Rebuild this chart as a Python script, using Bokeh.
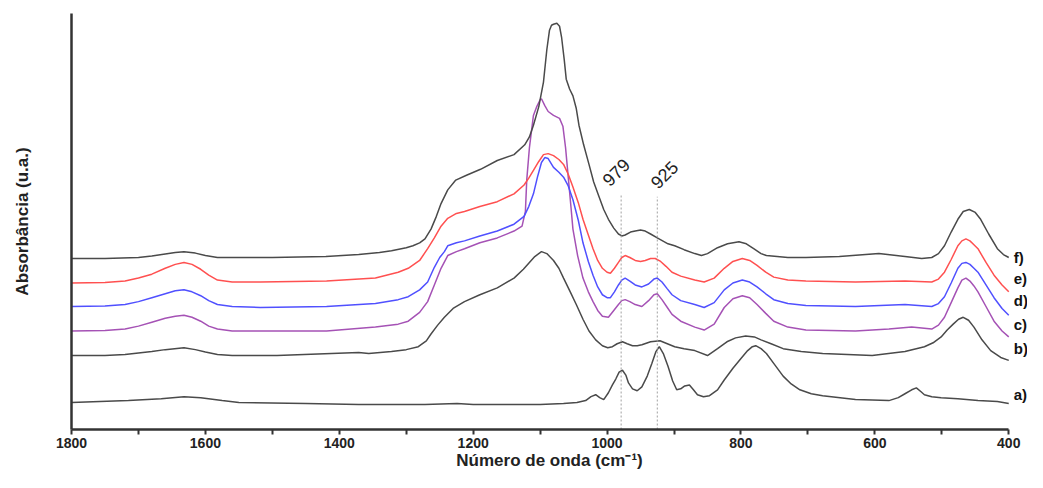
from bokeh.plotting import figure
from bokeh.models import Range1d, FixedTicker, Label
from bokeh.embed import file_html
from bokeh.resources import INLINE

# ---------------- data (wavenumber in cm-1, offset spectra) -------------
# values are given in picture units (py) and converted to absorbance (a.u.) below
wn_f = [1800, 1750, 1700, 1680, 1660, 1645, 1632, 1615, 1600, 1582,
        1500, 1420, 1371, 1340, 1322, 1300, 1290, 1280, 1272, 1263,
        1255, 1248, 1238, 1226, 1210, 1189, 1164, 1139, 1123, 1116,
        1110, 1102, 1095, 1090, 1086, 1083, 1080, 1075, 1071, 1068,
        1064, 1061, 1056, 1051, 1046, 1042, 1035, 1027, 1020, 1012,
        1005, 998, 990, 983, 978, 973, 965, 958, 950, 943,
        935, 925, 909, 899, 885, 869, 859, 850, 835, 820,
        803, 792, 781, 770, 762, 730, 703, 653, 594, 555,
        530, 515, 505, 496, 486, 476, 468, 459, 450, 442,
        430, 417, 408, 400]
py_f = [263, 263, 262, 260.5, 258.5, 257, 256, 257.5, 260, 262,
        262, 261, 259, 257, 255, 252, 250, 247, 243, 233,
        220, 207, 193, 183, 178, 172, 163, 157, 147, 139,
        127, 108, 83, 50, 30, 25, 24, 23, 26, 37,
        60, 80, 90, 97, 110, 127, 147, 167, 185, 200,
        213, 223, 232, 238, 240, 239, 236, 235, 234, 235,
        238, 242, 248, 250, 254, 258, 260, 258, 252, 248,
        246, 248, 253, 258, 260, 262, 262, 261, 258, 261,
        263, 262, 258, 250, 236, 223, 215, 213, 216, 223,
        238, 253, 259, 262]

wn_e = [1800, 1750, 1720, 1700, 1680, 1660, 1645, 1632, 1620, 1607,
        1595, 1582, 1560, 1518, 1419, 1346, 1312, 1297, 1280, 1268,
        1258, 1248, 1238, 1225, 1213, 1190, 1164, 1139, 1124, 1117,
        1110, 1102, 1095, 1088, 1080, 1072, 1065, 1058, 1051, 1043,
        1036, 1028, 1021, 1014, 1007, 1000, 995, 989, 983, 978,
        973, 966, 958, 950, 943, 935, 928, 920, 912, 903,
        890, 869, 855, 840, 825, 812, 798, 787, 776, 763,
        751, 730, 703, 629, 555, 515, 505, 496, 486, 476,
        470, 464, 458, 452, 446, 434, 422, 410, 400]
py_e = [288, 287.5, 286, 283, 279, 273, 269, 267, 269, 274,
        280, 285, 287, 287, 286, 283, 277, 273, 265, 253,
        242, 230, 222, 217, 215, 210, 205, 197, 188, 181,
        173, 164, 157, 156, 158, 162, 167, 177, 190, 206,
        223, 239, 253, 265, 273, 277, 278, 273, 267, 262,
        260, 262, 265, 266, 265, 263, 263, 266, 271, 277,
        281, 285, 287, 283, 273, 266, 263, 265, 270, 277,
        282, 285, 286, 287, 286, 287, 284, 277, 264, 250,
        245, 243, 245, 249, 253, 267, 280, 290, 297]

wn_d = [1800, 1750, 1720, 1700, 1680, 1660, 1645, 1632, 1620, 1607,
        1595, 1582, 1560, 1518, 1419, 1346, 1312, 1297, 1280, 1268,
        1258, 1250, 1243, 1238, 1225, 1213, 1190, 1164, 1139, 1124,
        1117, 1110, 1104, 1098, 1093, 1088, 1080, 1072, 1065, 1058,
        1051, 1043, 1036, 1028, 1021, 1014, 1007, 1000, 995, 989,
        983, 978, 973, 966, 958, 948, 938, 930, 925, 918,
        910, 903, 890, 869, 855, 840, 825, 812, 798, 787,
        776, 763, 751, 730, 703, 629, 555, 515, 505, 496,
        486, 476, 470, 464, 458, 452, 446, 434, 422, 410,
        400]
py_d = [312, 311.5, 310, 307, 303, 299, 296, 295, 297, 301,
        306, 310, 312, 313, 312, 309, 305, 302, 295, 287,
        272, 262, 256, 250, 247, 245, 240, 235, 228, 220,
        210, 197, 180, 165, 160, 161, 170, 175, 180, 189,
        203, 224, 247, 266, 280, 292, 300, 303, 303, 297,
        290, 285, 283, 286, 290, 292, 289, 284, 283, 287,
        294, 300, 306, 310, 313, 308, 295, 288, 285, 287,
        292, 299, 305, 309, 311, 312, 310, 312, 309, 302,
        288, 273, 268, 267, 269, 273, 277, 290, 303, 314,
        321]

wn_c = [1800, 1750, 1720, 1700, 1680, 1660, 1645, 1632, 1620, 1607,
        1595, 1582, 1560, 1518, 1419, 1346, 1312, 1297, 1280, 1268,
        1258, 1248, 1238, 1225, 1213, 1190, 1164, 1139, 1127, 1122,
        1120, 1116, 1110, 1105, 1100, 1098, 1093, 1088, 1080, 1071,
        1066, 1062, 1058, 1054, 1051, 1044, 1036, 1028, 1021, 1014,
        1007, 998, 990, 983, 978, 973, 966, 958, 948, 938,
        930, 925, 918, 910, 903, 890, 869, 855, 840, 825,
        812, 798, 787, 776, 763, 751, 730, 703, 629, 579,
        545, 515, 505, 496, 486, 476, 470, 464, 458, 452,
        446, 434, 422, 410, 400]
py_c = [337, 336.5, 335, 332, 328, 324, 322, 321, 323, 327,
        332, 335, 337, 337, 337, 333, 330, 327, 318, 307,
        290, 273, 260, 256, 253, 247, 242, 235, 230, 215,
        183, 150, 117, 108, 101, 100, 107, 113, 117, 120,
        128, 150, 180, 210, 233, 260, 283, 297, 307, 316,
        322, 323, 316, 310, 306, 305, 307, 310, 312, 306,
        300, 299, 305, 313, 320, 327, 333, 336, 330, 313,
        304, 301, 303, 310, 319, 327, 333, 336, 337, 335,
        333, 335, 331, 323, 308, 293, 285, 283, 286, 291,
        297, 312, 327, 337, 343]

wn_b = [1800, 1750, 1720, 1700, 1680, 1660, 1632, 1615, 1600, 1582,
        1560, 1493, 1371, 1356, 1322, 1300, 1282, 1270, 1263, 1253,
        1243, 1230, 1213, 1190, 1164, 1139, 1125, 1116, 1108, 1098,
        1090, 1080, 1072, 1065, 1055, 1046, 1036, 1027, 1017, 1007,
        999, 992, 985, 977, 970, 962, 955, 948, 935, 921,
        910, 899, 885, 869, 850, 835, 821, 808, 793, 780,
        770, 755, 737, 710, 678, 604, 555, 526, 513, 501,
        492, 483, 475, 468, 460, 452, 440, 427, 412, 400]
py_b = [362, 362, 361, 359.5, 358, 356, 354, 356, 358.5, 361,
        362, 362, 359, 360, 358, 356, 353, 347, 340, 331,
        323, 314, 307, 300, 293, 283, 274, 267, 261, 256,
        258, 265, 273, 283, 297, 310, 325, 337, 346, 352,
        354, 353, 350, 348, 350, 352, 352, 351, 348, 347,
        350, 353, 355, 357, 362, 355, 348, 344, 342, 343,
        346, 350, 355, 358, 360, 362, 358, 353, 349, 343,
        336, 330, 325, 323, 326, 333, 346, 357, 364, 367]

wn_a = [1800, 1715, 1666, 1632, 1607, 1575, 1550, 1450, 1371, 1272,
        1224, 1200, 1100, 1065, 1045, 1032, 1024, 1017, 1011, 1005,
        998, 992, 987, 982, 977, 972, 968, 962, 955, 948,
        940, 933, 927, 922, 916, 909, 902, 896, 890, 884,
        877, 871, 865, 856, 847, 835, 825, 812, 800, 790,
        783, 778, 770, 762, 750, 737, 725, 712, 695, 678,
        629, 579, 565, 555, 545, 538, 531, 526, 515, 501,
        476, 446, 417, 400]
py_a = [410, 408, 406, 404, 405, 408, 410, 411, 412, 412,
        411, 412, 412, 411, 410, 408, 404, 402, 405, 407,
        400, 392, 386, 379, 377, 382, 390, 396, 398, 394,
        383, 370, 358, 353, 360, 373, 388, 397, 396, 393,
        392, 397, 402, 404, 403, 397, 387, 375, 365, 357,
        353, 352, 355, 360, 371, 383, 391, 397, 401, 403,
        407, 408, 405, 401, 397, 395, 399, 402, 404, 405,
        406, 408, 409, 411]

names = ["a)", "b)", "c)", "d)", "e)", "f)"]
marks = [979, 925]
mark_labels = ["979", "925"]
x_ticks = [1800, 1600, 1400, 1200, 1000, 800, 600, 400]
x_minor = [1700, 1500, 1300, 1100, 900, 700, 500]


def to_abs(vals):
    return [(441 - v) / 100.0 for v in vals]


GRAY = "#4a4a4a"
series = [
    (wn_a, to_abs(py_a), GRAY),
    (wn_b, to_abs(py_b), GRAY),
    (wn_c, to_abs(py_c), "#a552b5"),
    (wn_d, to_abs(py_d), "#5050ff"),
    (wn_e, to_abs(py_e), "#ff5050"),
    (wn_f, to_abs(py_f), GRAY),
]
label_pos = to_abs([402, 355, 330, 306, 283, 262])

# ---------------- figure -------------------
# frame extends past 400 cm-1 (axis drawn only to 400) so the curve labels fit on the right
p = figure(width=1027, height=472, x_range=Range1d(1800, 372), y_range=Range1d(0.035, 4.28),
           output_backend="svg", toolbar_location=None,
           min_border_left=71, min_border_right=0, min_border_top=13, min_border_bottom=42)
p.outline_line_color = None
p.xgrid.visible = False
p.ygrid.visible = False

FONT = "Liberation Sans"

for (xs, ys, col) in series:
    p.line(xs, ys, line_color=col, line_width=1.5)

for name, ly in zip(names, label_pos):
    p.add_layout(Label(x=400, y=ly, x_offset=5, text=name, text_font=FONT, text_font_style="bold",
                       text_font_size="15px", text_baseline="middle", text_color="#111111"))

# dotted marker lines
p.segment(x0=marks, y0=[0.035, 0.035], x1=marks, y1=[2.44, 2.41],
          line_color="#a0a0a0", line_width=1, line_dash="2 2")
offsets = [-5, 7]
ypos = [2.66, 2.635]
for m, t, xo, yy in zip(marks, mark_labels, offsets, ypos):
    p.add_layout(Label(x=m, y=yy, x_offset=xo, text=t, angle=0.785, text_align="center",
                       text_baseline="middle", text_font=FONT, text_font_size="18px",
                       text_color="#222222"))

# x axis
xa = p.xaxis[0]
xa.bounds = (400, 1800)
xa.ticker = FixedTicker(ticks=x_ticks, minor_ticks=x_minor)
xa.axis_label = "Número de onda (cm⁻¹)"
xa.axis_label_text_font = FONT
xa.axis_label_text_font_style = "bold"
xa.axis_label_text_font_size = "17px"
xa.axis_label_standoff = 0
xa.major_label_text_font = FONT
xa.major_label_text_font_style = "bold"
xa.major_label_text_font_size = "14px"
xa.major_label_standoff = 3
xa.major_tick_in = 0
xa.major_tick_out = 5
xa.minor_tick_in = 0
xa.minor_tick_out = 5
xa.axis_line_width = 2.5
xa.major_tick_line_width = 2
xa.minor_tick_line_width = 2
xa.axis_line_color = "#333333"
xa.major_tick_line_color = "#333333"
xa.minor_tick_line_color = "#333333"
xa.major_label_text_color = "#222222"
xa.axis_label_text_color = "#222222"

# y axis
ya = p.yaxis[0]
ya.ticker = FixedTicker(ticks=[])
ya.major_tick_in = 0
ya.major_tick_out = 0
ya.minor_tick_in = 0
ya.minor_tick_out = 0
ya.major_label_standoff = 0
ya.axis_label = "Absorbância (u.a.)"
ya.axis_label_text_font = FONT
ya.axis_label_text_font_style = "bold"
ya.axis_label_text_font_size = "17px"
ya.axis_label_standoff = 40
ya.axis_line_width = 2.5
ya.axis_line_color = "#333333"
ya.axis_label_text_color = "#222222"

open("out.html", "w").write(file_html(p, INLINE))
